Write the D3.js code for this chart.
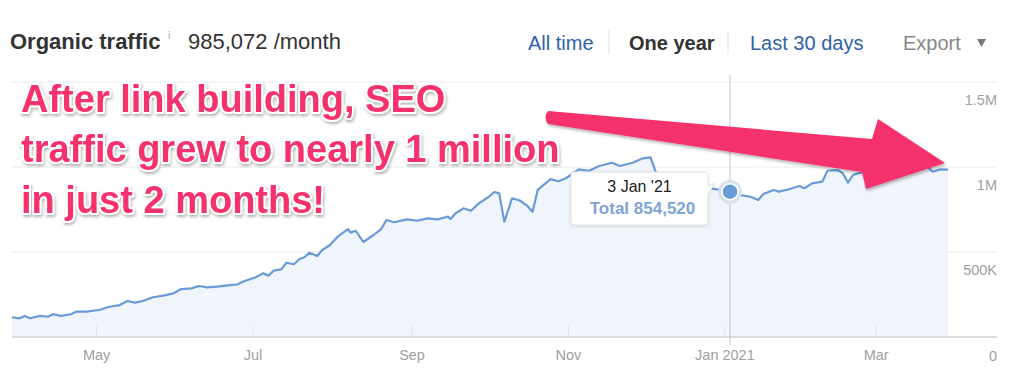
<!DOCTYPE html>
<html><head><meta charset="utf-8">
<script src="https://cdn.jsdelivr.net/npm/d3@7/dist/d3.min.js"></script>
<style>
html,body{margin:0;padding:0;background:#fff;}
svg{display:block;font-family:"Liberation Sans",Arial,Helvetica,sans-serif;}
</style></head>
<body><svg id="c" width="1024" height="391"></svg>
<script>
const dates = ["2020-03-29","2020-04-01","2020-04-03","2020-04-05","2020-04-09","2020-04-12","2020-04-14","2020-04-17","2020-04-21","2020-04-23","2020-04-27",
"2020-05-02","2020-05-06","2020-05-10","2020-05-13","2020-05-16","2020-05-19","2020-05-23","2020-05-27","2020-05-31",
"2020-06-03","2020-06-07","2020-06-10","2020-06-13","2020-06-17","2020-06-21","2020-06-25","2020-06-27",
"2020-07-02","2020-07-05","2020-07-07","2020-07-09","2020-07-12","2020-07-14","2020-07-17","2020-07-19","2020-07-21","2020-07-23","2020-07-26","2020-07-28","2020-07-31",
"2020-08-03","2020-08-07","2020-08-08","2020-08-10","2020-08-13","2020-08-17","2020-08-20","2020-08-22","2020-08-25","2020-08-30",
"2020-09-03","2020-09-07","2020-09-11","2020-09-15","2020-09-16","2020-09-18","2020-09-21","2020-09-24","2020-09-27",
"2020-10-01","2020-10-03","2020-10-05","2020-10-07","2020-10-10","2020-10-13","2020-10-16","2020-10-18","2020-10-20","2020-10-25","2020-10-28","2020-10-31",
"2020-11-05","2020-11-09","2020-11-13","2020-11-18","2020-11-21","2020-11-26","2020-11-30",
"2020-12-03","2020-12-05","2020-12-09","2020-12-14","2020-12-20","2020-12-26","2020-12-29",
"2021-01-03","2021-01-07","2021-01-11","2021-01-14","2021-01-16","2021-01-20","2021-01-22","2021-01-26","2021-01-30",
"2021-02-01","2021-02-04","2021-02-08","2021-02-10","2021-02-14","2021-02-16","2021-02-18","2021-02-20","2021-02-24","2021-02-27",
"2021-03-04","2021-03-10","2021-03-16","2021-03-21","2021-03-23","2021-03-26","2021-03-29"];
const traffic = [116000,110000,124000,110000,124000,119000,134000,124000,134000,149000,149000,
159000,178000,188000,212000,202000,212000,234000,243000,257000,
282000,286000,300000,292000,296000,304000,310000,325000,
351000,375000,361000,390000,398000,437000,428000,457000,469000,496000,476000,512000,541000,
590000,634000,614000,625000,559000,600000,635000,688000,675000,692000,
684000,698000,692000,708000,694000,728000,757000,743000,786000,
825000,853000,845000,678000,816000,803000,771000,737000,865000,929000,916000,934000,
986000,978000,1006000,1025000,1006000,1025000,1051000,
1057000,972000,906000,888000,900000,876000,868000,
854520,835000,825000,806000,841000,865000,855000,869000,888000,
875000,904000,914000,978000,982000,963000,908000,953000,972000,992000,
1000000,1006000,1000000,1002000,972000,986000,985072];
const xTickDates = ["2020-05-01","2020-07-01","2020-09-01","2020-11-01","2021-01-01","2021-03-01"];
const xTickLabels = ["May","Jul","Sep","Nov","Jan 2021","Mar"];
const yTicks = [0,500000,1000000,1500000];
const yTickLabels = ["0","500K","1M","1.5M"];
const hoverDate = "2021-01-03";
const hoverValue = 854520;
const headerTitle = "Organic traffic";
const headerValue = "985,072 /month";
const navItems = ["All time","One year","Last 30 days"];
const annotationLines = ["After link building, SEO","traffic grew to nearly 1 million","in just 2 months!"];

const parse = d3.utcParse("%Y-%m-%d");
const data = dates.map((d,i)=>({date:parse(d), value:traffic[i]}));
const svg = d3.select("#c");

const x = d3.scaleUtc().domain([parse("2020-03-29"), parse("2021-03-29")]).range([12, 948]);
const y = d3.scaleLinear().domain([0,1500000]).range([337, 82]);
const gridLeft = 12, gridRight = 997;

const defs = svg.append("defs");
const f = defs.append("filter").attr("id","sh").attr("x","-10%").attr("y","-20%").attr("width","120%").attr("height","150%");
f.append("feDropShadow").attr("dx",1).attr("dy",2).attr("stdDeviation",1.6).attr("flood-color","#000").attr("flood-opacity",0.3);
const f2 = defs.append("filter").attr("id","tsh").attr("x","-20%").attr("y","-20%").attr("width","140%").attr("height","160%");
f2.append("feDropShadow").attr("dx",0).attr("dy",1).attr("stdDeviation",1.5).attr("flood-color","#000").attr("flood-opacity",0.12);

// Header
svg.append("text").attr("x",10).attr("y",49).attr("font-size",22).attr("font-weight","bold").attr("fill","#333").text(headerTitle);
svg.append("text").attr("x",168).attr("y",39).attr("font-size",11).attr("fill","#aaa").text("i");
svg.append("text").attr("x",188).attr("y",49).attr("font-size",22).attr("fill","#333").text(headerValue);
const navX = [528, 629, 750];
navItems.forEach((t,i)=>{
  svg.append("text").attr("x",navX[i]).attr("y",50).attr("font-size",20)
    .attr("font-weight", i===1?"bold":"normal").attr("fill", i===1?"#333":"#2f62a7").text(t);
});
[609,728].forEach(sx=>svg.append("line").attr("x1",sx).attr("x2",sx).attr("y1",30).attr("y2",54).attr("stroke","#e2e2e2"));
svg.append("text").attr("x",903).attr("y",50).attr("font-size",20).attr("fill","#888").text("Export");
svg.append("path").attr("d","M977,39 L986,39 L981.5,47 Z").attr("fill","#777");

// Grid
const g = svg.append("g");
yTicks.forEach((t,i)=>{
  g.append("line").attr("x1",gridLeft).attr("x2",gridRight).attr("y1",y(t)).attr("y2",y(t))
   .attr("stroke", t===0?"#dcdcdc":"#ececec").attr("stroke-width", t===0?2:1);
  g.append("text").attr("x",997).attr("y", t===0 ? 361 : y(t)+23).attr("text-anchor","end")
   .attr("font-size",14.5).attr("fill","#a0a0a0").text(yTickLabels[i]);
});

// Area + line
const area = d3.area().x(d=>x(d.date)).y0(y(0)).y1(d=>y(d.value));
const line = d3.line().x(d=>x(d.date)).y(d=>y(d.value));
g.append("path").datum(data).attr("d",area).attr("fill","#f0f5fc");
xTickDates.forEach((d,i)=>{
  const xx = x(parse(d));
  g.append("line").attr("x1",xx).attr("x2",xx).attr("y1",y(0)-11).attr("y2",y(0)).attr("stroke","#e2e2e2");
  g.append("text").attr("x",xx).attr("y",360).attr("text-anchor","middle").attr("font-size",14.5).attr("fill","#a0a0a0").text(xTickLabels[i]);
});
g.append("line").attr("x1",gridLeft).attr("x2",gridRight).attr("y1",y(0)).attr("y2",y(0)).attr("stroke","#dcdcdc").attr("stroke-width",2);
g.append("path").datum(data).attr("d",line).attr("fill","none").attr("stroke","#6a9bd6").attr("stroke-width",2.2).attr("stroke-linejoin","round");

// hover
const hx = x(parse(hoverDate)), hy = y(hoverValue);
g.append("line").attr("x1",hx).attr("x2",hx).attr("y1",75).attr("y2",345).attr("stroke","#c8c8c8").attr("stroke-width",1);
g.append("circle").attr("cx",hx).attr("cy",hy).attr("r",12).attr("fill","#d9e0ea").attr("opacity",0.9);
g.append("circle").attr("cx",hx).attr("cy",hy).attr("r",8).attr("fill","#6a9bd6").attr("stroke","#fff").attr("stroke-width",1.5);

// tooltip
const tt = svg.append("g");
const bx=571, by=172, bw=137, bh=53;
tt.append("path").attr("filter","url(#tsh)")
  .attr("d",`M${bx+3},${by} H${bx+bw-3} Q${bx+bw},${by} ${bx+bw},${by+3} V${hy-6} L${bx+bw+7},${hy-8} L${bx+bw},${hy+2} V${by+bh-3} Q${bx+bw},${by+bh} ${bx+bw-3},${by+bh} H${bx+3} Q${bx},${by+bh} ${bx},${by+bh-3} V${by+3} Q${bx},${by} ${bx+3},${by} Z`)
  .attr("fill","#fff").attr("stroke","#e0e0e0");
tt.append("text").attr("x",bx+bw/2).attr("y",192).attr("text-anchor","middle").attr("font-size",16).attr("fill","#222").text(d3.utcFormat("%-d %b '%y")(parse(hoverDate)));
tt.append("text").attr("x",bx+bw/2+3).attr("y",214).attr("text-anchor","middle").attr("font-size",17).attr("font-weight","bold").attr("fill","#7ea5d6").text("Total " + d3.format(",")(hoverValue));

// Annotation arrow
const pink = "#f5306c";
svg.append("path").attr("filter","url(#sh)")
  .attr("d","M548,111 Q543,117 548,124 L862,172 L866,189 L945,163 L878,119 L872,139 Z")
  .attr("fill",pink);

// Annotation text
const ann = svg.append("g").attr("filter","url(#sh)");
const base = [112,162,213];
annotationLines.forEach((t,i)=>{
  ann.append("text").attr("x",21).attr("y",base[i]).attr("font-size",38).attr("font-weight","bold")
    .attr("fill",pink).attr("stroke","#fff").attr("stroke-width",4).attr("stroke-linejoin","round")
    .attr("paint-order","stroke").text(t);
});
</script></body></html>
